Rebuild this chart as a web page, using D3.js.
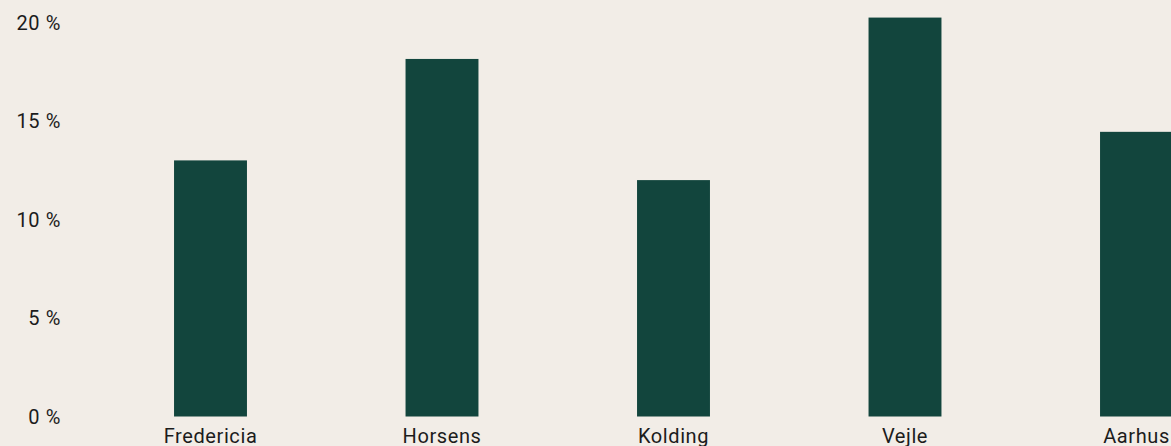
<!DOCTYPE html>
<html>
<head>
<meta charset="utf-8">
<script src="https://cdn.jsdelivr.net/npm/d3@7"></script>
<style>
  html, body { margin: 0; padding: 0; background: #f2ede7; overflow: hidden; }
  svg { display: block; }
  text { font-family: Roboto, sans-serif; fill: #1c1c1c; }
</style>
</head>
<body>
<script>
// cities and share (%)
const cities = ['Fredericia', 'Horsens', 'Kolding', 'Vejle', 'Aarhus'];
const shares = [13.0, 18.15, 12.0, 20.25, 14.45];
const yTicks = [0, 5, 10, 15, 20];

const width = 1171;
const height = 446;

const svg = d3.select('body')
  .append('svg')
  .attr('width', width)
  .attr('height', height);

// one band per city, bar sits in the middle of its step
const step = 231.5;
const x = d3.scaleBand()
  .domain(cities)
  .range([94.75, 94.75 + step * cities.length])
  .paddingInner(0.685)
  .paddingOuter(0.3425);

const y = d3.scaleLinear()
  .domain([0, 20])
  .range([416.5, 22.5]);

// y labels, no axis line
svg.append('g')
  .selectAll('text')
  .data(yTicks)
  .join('text')
  .attr('x', 61)
  .attr('y', (d) => y(d) + 7)
  .attr('text-anchor', 'end')
  .style('font-size', '20px')
  .style('letter-spacing', '0.6px')
  .text((d) => d + ' %');

svg.append('g')
  .selectAll('rect')
  .data(cities.map((c, i) => ({ city: c, value: shares[i] })))
  .join('rect')
  .attr('x', (d) => x(d.city))
  .attr('width', x.bandwidth())
  .attr('y', (d) => y(d.value))
  .attr('height', (d) => y(0) - y(d.value))
  .attr('fill', '#12453d');

// city names under the bars
svg.append('g')
  .selectAll('text')
  .data(cities)
  .join('text')
  .attr('x', (d) => x(d) + x.bandwidth() / 2)
  .attr('y', 443)
  .attr('text-anchor', 'middle')
  .style('font-size', '20px')
  .style('letter-spacing', '0.6px')
  .text((d) => d);
</script>
</body>
</html>
